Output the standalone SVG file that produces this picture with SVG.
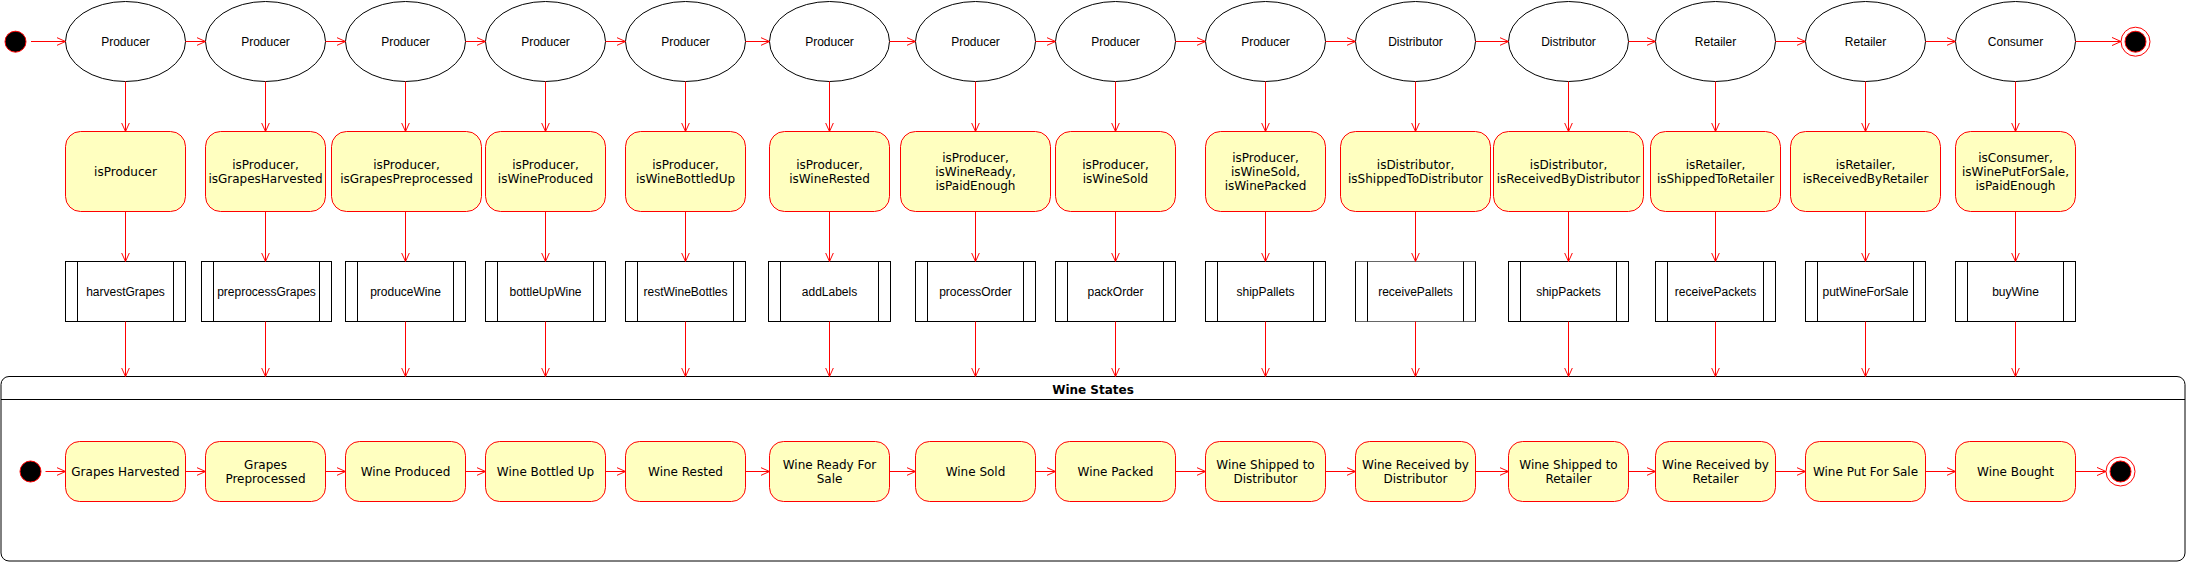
<svg xmlns="http://www.w3.org/2000/svg" width="2186" height="562" viewBox="0 0 2186 562">
<style>
.bg{fill:#ffffff}
.role{fill:#ffffff;stroke:#000000;stroke-width:1}
.cond{fill:#ffffc0;stroke:#ff0000;stroke-width:1}
.proc{fill:#ffffff;stroke:#000000;stroke-width:1}
.bar{stroke:#000000;stroke-width:1;fill:none}
.st{fill:#ffffc0;stroke:#ff0000;stroke-width:1}
.lbl{font-family:"Liberation Sans",Arial,sans-serif;font-size:12px;fill:#000000;text-anchor:middle}
.vl{font-family:"DejaVu Sans",Verdana,sans-serif;font-size:12px;fill:#000000;text-anchor:middle}
.title{font-family:"DejaVu Sans",Verdana,sans-serif;font-size:12px;font-weight:bold;fill:#000000;text-anchor:middle}
.cn line{stroke:#ff0000;stroke-width:1;fill:none;marker-end:url(#open)}
.cont{fill:#ffffff;stroke:#000000;stroke-width:1}
</style>
<defs>
<marker id="open" markerUnits="userSpaceOnUse" viewBox="0 0 10 10" refX="10" refY="5" markerWidth="9" markerHeight="10" orient="auto">
<path d="M0,0.5 L10,5 L0,9.5" fill="none" stroke="#ff0000" stroke-width="1.1"/>
</marker>
</defs>
<rect class="bg" x="0" y="0" width="2186" height="562"/>

<!-- container -->
<g id="wine-states">
<rect class="cont" x="1" y="376.5" width="2184" height="184.5" rx="8" ry="8"/>
<line x1="1" y1="399.5" x2="2185" y2="399.5" stroke="#000000" stroke-width="1"/>
<text class="title" x="1093" y="393.5">Wine States</text>
</g>

<!-- start / end -->
<g id="start-top"><circle cx="15.5" cy="41.7" r="10.5" fill="#000000" stroke="#ff0000" stroke-width="1"/></g>
<g id="end-top"><circle cx="2135.5" cy="41.7" r="14.5" fill="#ffffff" stroke="#ff0000" stroke-width="1"/><circle cx="2135.5" cy="41.7" r="10.5" fill="#000000" stroke="#ff0000" stroke-width="1"/></g>
<g id="start-states"><circle cx="30.5" cy="471.5" r="10.5" fill="#000000" stroke="#ff0000" stroke-width="1"/></g>
<g id="end-states"><circle cx="2120.5" cy="471.5" r="14.5" fill="#ffffff" stroke="#ff0000" stroke-width="1"/><circle cx="2120.5" cy="471.5" r="10.5" fill="#000000" stroke="#ff0000" stroke-width="1"/></g>

<!-- role ellipses -->
<g id="role1"><ellipse class="role" cx="125.5" cy="41.5" rx="60" ry="40"/><text class="lbl" x="125.5" y="46">Producer</text></g>
<g id="role2"><ellipse class="role" cx="265.5" cy="41.5" rx="60" ry="40"/><text class="lbl" x="265.5" y="46">Producer</text></g>
<g id="role3"><ellipse class="role" cx="405.5" cy="41.5" rx="60" ry="40"/><text class="lbl" x="405.5" y="46">Producer</text></g>
<g id="role4"><ellipse class="role" cx="545.5" cy="41.5" rx="60" ry="40"/><text class="lbl" x="545.5" y="46">Producer</text></g>
<g id="role5"><ellipse class="role" cx="685.5" cy="41.5" rx="60" ry="40"/><text class="lbl" x="685.5" y="46">Producer</text></g>
<g id="role6"><ellipse class="role" cx="829.5" cy="41.5" rx="60" ry="40"/><text class="lbl" x="829.5" y="46">Producer</text></g>
<g id="role7"><ellipse class="role" cx="975.5" cy="41.5" rx="60" ry="40"/><text class="lbl" x="975.5" y="46">Producer</text></g>
<g id="role8"><ellipse class="role" cx="1115.5" cy="41.5" rx="60" ry="40"/><text class="lbl" x="1115.5" y="46">Producer</text></g>
<g id="role9"><ellipse class="role" cx="1265.5" cy="41.5" rx="60" ry="40"/><text class="lbl" x="1265.5" y="46">Producer</text></g>
<g id="role10"><ellipse class="role" cx="1415.5" cy="41.5" rx="60" ry="40"/><text class="lbl" x="1415.5" y="46">Distributor</text></g>
<g id="role11"><ellipse class="role" cx="1568.5" cy="41.5" rx="60" ry="40"/><text class="lbl" x="1568.5" y="46">Distributor</text></g>
<g id="role12"><ellipse class="role" cx="1715.5" cy="41.5" rx="60" ry="40"/><text class="lbl" x="1715.5" y="46">Retailer</text></g>
<g id="role13"><ellipse class="role" cx="1865.5" cy="41.5" rx="60" ry="40"/><text class="lbl" x="1865.5" y="46">Retailer</text></g>
<g id="role14"><ellipse class="role" cx="2015.5" cy="41.5" rx="60" ry="40"/><text class="lbl" x="2015.5" y="46">Consumer</text></g>

<!-- condition boxes -->
<g id="cond1"><rect class="cond" x="65.5" y="131.5" width="120" height="80" rx="15" ry="15"/><text class="vl" x="125.5" y="175.5">isProducer</text></g>
<g id="cond2"><rect class="cond" x="205.5" y="131.5" width="120" height="80" rx="15" ry="15"/><text class="vl" x="265.5" y="168.5">isProducer,</text><text class="vl" x="265.5" y="182.5">isGrapesHarvested</text></g>
<g id="cond3"><rect class="cond" x="331.5" y="131.5" width="150" height="80" rx="15" ry="15"/><text class="vl" x="406.5" y="168.5">isProducer,</text><text class="vl" x="406.5" y="182.5">isGrapesPreprocessed</text></g>
<g id="cond4"><rect class="cond" x="485.5" y="131.5" width="120" height="80" rx="15" ry="15"/><text class="vl" x="545.5" y="168.5">isProducer,</text><text class="vl" x="545.5" y="182.5">isWineProduced</text></g>
<g id="cond5"><rect class="cond" x="625.5" y="131.5" width="120" height="80" rx="15" ry="15"/><text class="vl" x="685.5" y="168.5">isProducer,</text><text class="vl" x="685.5" y="182.5">isWineBottledUp</text></g>
<g id="cond6"><rect class="cond" x="769.5" y="131.5" width="120" height="80" rx="15" ry="15"/><text class="vl" x="829.5" y="168.5">isProducer,</text><text class="vl" x="829.5" y="182.5">isWineRested</text></g>
<g id="cond7"><rect class="cond" x="900.5" y="131.5" width="150" height="80" rx="15" ry="15"/><text class="vl" x="975.5" y="161.5">isProducer,</text><text class="vl" x="975.5" y="175.5">isWineReady,</text><text class="vl" x="975.5" y="189.5">isPaidEnough</text></g>
<g id="cond8"><rect class="cond" x="1055.5" y="131.5" width="120" height="80" rx="15" ry="15"/><text class="vl" x="1115.5" y="168.5">isProducer,</text><text class="vl" x="1115.5" y="182.5">isWineSold</text></g>
<g id="cond9"><rect class="cond" x="1205.5" y="131.5" width="120" height="80" rx="15" ry="15"/><text class="vl" x="1265.5" y="161.5">isProducer,</text><text class="vl" x="1265.5" y="175.5">isWineSold,</text><text class="vl" x="1265.5" y="189.5">isWinePacked</text></g>
<g id="cond10"><rect class="cond" x="1340.5" y="131.5" width="150" height="80" rx="15" ry="15"/><text class="vl" x="1415.5" y="168.5">isDistributor,</text><text class="vl" x="1415.5" y="182.5">isShippedToDistributor</text></g>
<g id="cond11"><rect class="cond" x="1493.5" y="131.5" width="150" height="80" rx="15" ry="15"/><text class="vl" x="1568.5" y="168.5">isDistributor,</text><text class="vl" x="1568.5" y="182.5">isReceivedByDistributor</text></g>
<g id="cond12"><rect class="cond" x="1650.5" y="131.5" width="130" height="80" rx="15" ry="15"/><text class="vl" x="1715.5" y="168.5">isRetailer,</text><text class="vl" x="1715.5" y="182.5">isShippedToRetailer</text></g>
<g id="cond13"><rect class="cond" x="1790.5" y="131.5" width="150" height="80" rx="15" ry="15"/><text class="vl" x="1865.5" y="168.5">isRetailer,</text><text class="vl" x="1865.5" y="182.5">isReceivedByRetailer</text></g>
<g id="cond14"><rect class="cond" x="1955.5" y="131.5" width="120" height="80" rx="15" ry="15"/><text class="vl" x="2015.5" y="161.5">isConsumer,</text><text class="vl" x="2015.5" y="175.5">isWinePutForSale,</text><text class="vl" x="2015.5" y="189.5">isPaidEnough</text></g>

<!-- process boxes -->
<g id="proc1"><rect class="proc" x="65.5" y="261.5" width="120" height="60"/><path class="bar" d="M77.5,261.5V321.5M173.5,261.5V321.5"/><text class="lbl" x="125.5" y="296">harvestGrapes</text></g>
<g id="proc2"><rect class="proc" x="201.5" y="261.5" width="130" height="60"/><path class="bar" d="M213.5,261.5V321.5M319.5,261.5V321.5"/><text class="lbl" x="266.5" y="296">preprocessGrapes</text></g>
<g id="proc3"><rect class="proc" x="345.5" y="261.5" width="120" height="60"/><path class="bar" d="M357.5,261.5V321.5M453.5,261.5V321.5"/><text class="lbl" x="405.5" y="296">produceWine</text></g>
<g id="proc4"><rect class="proc" x="485.5" y="261.5" width="120" height="60"/><path class="bar" d="M497.5,261.5V321.5M593.5,261.5V321.5"/><text class="lbl" x="545.5" y="296">bottleUpWine</text></g>
<g id="proc5"><rect class="proc" x="625.5" y="261.5" width="120" height="60"/><path class="bar" d="M637.5,261.5V321.5M733.5,261.5V321.5"/><text class="lbl" x="685.5" y="296">restWineBottles</text></g>
<g id="proc6"><rect class="proc" x="768.5" y="261.5" width="122" height="60"/><path class="bar" d="M780.5,261.5V321.5M878.5,261.5V321.5"/><text class="lbl" x="829.5" y="296">addLabels</text></g>
<g id="proc7"><rect class="proc" x="915.5" y="261.5" width="120" height="60"/><path class="bar" d="M927.5,261.5V321.5M1023.5,261.5V321.5"/><text class="lbl" x="975.5" y="296">processOrder</text></g>
<g id="proc8"><rect class="proc" x="1055.5" y="261.5" width="120" height="60"/><path class="bar" d="M1067.5,261.5V321.5M1163.5,261.5V321.5"/><text class="lbl" x="1115.5" y="296">packOrder</text></g>
<g id="proc9"><rect class="proc" x="1205.5" y="261.5" width="120" height="60"/><path class="bar" d="M1217.5,261.5V321.5M1313.5,261.5V321.5"/><text class="lbl" x="1265.5" y="296">shipPallets</text></g>
<g id="proc10"><rect class="proc" x="1355.5" y="261.5" width="120" height="60" style="stroke:#666666"/><path class="bar" d="M1355.5,261.5V321.5M1475.5,261.5V321.5M1367.5,261.5V321.5M1463.5,261.5V321.5"/><text class="lbl" x="1415.5" y="296">receivePallets</text></g>
<g id="proc11"><rect class="proc" x="1508.5" y="261.5" width="120" height="60"/><path class="bar" d="M1520.5,261.5V321.5M1616.5,261.5V321.5"/><text class="lbl" x="1568.5" y="296">shipPackets</text></g>
<g id="proc12"><rect class="proc" x="1655.5" y="261.5" width="120" height="60"/><path class="bar" d="M1667.5,261.5V321.5M1763.5,261.5V321.5"/><text class="lbl" x="1715.5" y="296">receivePackets</text></g>
<g id="proc13"><rect class="proc" x="1805.5" y="261.5" width="120" height="60"/><path class="bar" d="M1817.5,261.5V321.5M1913.5,261.5V321.5"/><text class="lbl" x="1865.5" y="296">putWineForSale</text></g>
<g id="proc14"><rect class="proc" x="1955.5" y="261.5" width="120" height="60"/><path class="bar" d="M1967.5,261.5V321.5M2063.5,261.5V321.5"/><text class="lbl" x="2015.5" y="296">buyWine</text></g>

<!-- state boxes -->
<g id="state1"><rect class="st" x="65.5" y="441.5" width="120" height="60" rx="14" ry="14"/><text class="vl" x="125.5" y="476">Grapes Harvested</text></g>
<g id="state2"><rect class="st" x="205.5" y="441.5" width="120" height="60" rx="14" ry="14"/><text class="vl" x="265.5" y="469">Grapes</text><text class="vl" x="265.5" y="483">Preprocessed</text></g>
<g id="state3"><rect class="st" x="345.5" y="441.5" width="120" height="60" rx="14" ry="14"/><text class="vl" x="405.5" y="476">Wine Produced</text></g>
<g id="state4"><rect class="st" x="485.5" y="441.5" width="120" height="60" rx="14" ry="14"/><text class="vl" x="545.5" y="476">Wine Bottled Up</text></g>
<g id="state5"><rect class="st" x="625.5" y="441.5" width="120" height="60" rx="14" ry="14"/><text class="vl" x="685.5" y="476">Wine Rested</text></g>
<g id="state6"><rect class="st" x="769.5" y="441.5" width="120" height="60" rx="14" ry="14"/><text class="vl" x="829.5" y="469">Wine Ready For</text><text class="vl" x="829.5" y="483">Sale</text></g>
<g id="state7"><rect class="st" x="915.5" y="441.5" width="120" height="60" rx="14" ry="14"/><text class="vl" x="975.5" y="476">Wine Sold</text></g>
<g id="state8"><rect class="st" x="1055.5" y="441.5" width="120" height="60" rx="14" ry="14"/><text class="vl" x="1115.5" y="476">Wine Packed</text></g>
<g id="state9"><rect class="st" x="1205.5" y="441.5" width="120" height="60" rx="14" ry="14"/><text class="vl" x="1265.5" y="469">Wine Shipped to</text><text class="vl" x="1265.5" y="483">Distributor</text></g>
<g id="state10"><rect class="st" x="1355.5" y="441.5" width="120" height="60" rx="14" ry="14"/><text class="vl" x="1415.5" y="469">Wine Received by</text><text class="vl" x="1415.5" y="483">Distributor</text></g>
<g id="state11"><rect class="st" x="1508.5" y="441.5" width="120" height="60" rx="14" ry="14"/><text class="vl" x="1568.5" y="469">Wine Shipped to</text><text class="vl" x="1568.5" y="483">Retailer</text></g>
<g id="state12"><rect class="st" x="1655.5" y="441.5" width="120" height="60" rx="14" ry="14"/><text class="vl" x="1715.5" y="469">Wine Received by</text><text class="vl" x="1715.5" y="483">Retailer</text></g>
<g id="state13"><rect class="st" x="1805.5" y="441.5" width="120" height="60" rx="14" ry="14"/><text class="vl" x="1865.5" y="476">Wine Put For Sale</text></g>
<g id="state14"><rect class="st" x="1955.5" y="441.5" width="120" height="60" rx="14" ry="14"/><text class="vl" x="2015.5" y="476">Wine Bought</text></g>

<!-- connectors -->
<g id="connectors" class="cn">
<line x1="31" y1="41.5" x2="65.5" y2="41.5"/>
<line x1="185.5" y1="41.5" x2="205.5" y2="41.5"/>
<line x1="325.5" y1="41.5" x2="345.5" y2="41.5"/>
<line x1="465.5" y1="41.5" x2="485.5" y2="41.5"/>
<line x1="605.5" y1="41.5" x2="625.5" y2="41.5"/>
<line x1="745.5" y1="41.5" x2="769.5" y2="41.5"/>
<line x1="889.5" y1="41.5" x2="915.5" y2="41.5"/>
<line x1="1035.5" y1="41.5" x2="1055.5" y2="41.5"/>
<line x1="1175.5" y1="41.5" x2="1205.5" y2="41.5"/>
<line x1="1325.5" y1="41.5" x2="1355.5" y2="41.5"/>
<line x1="1475.5" y1="41.5" x2="1508.5" y2="41.5"/>
<line x1="1628.5" y1="41.5" x2="1655.5" y2="41.5"/>
<line x1="1775.5" y1="41.5" x2="1805.5" y2="41.5"/>
<line x1="1925.5" y1="41.5" x2="1955.5" y2="41.5"/>
<line x1="2075.5" y1="41.5" x2="2121" y2="41.5"/>

<line x1="125.5" y1="81.5" x2="125.5" y2="131.5"/>
<line x1="265.5" y1="81.5" x2="265.5" y2="131.5"/>
<line x1="405.5" y1="81.5" x2="405.5" y2="131.5"/>
<line x1="545.5" y1="81.5" x2="545.5" y2="131.5"/>
<line x1="685.5" y1="81.5" x2="685.5" y2="131.5"/>
<line x1="829.5" y1="81.5" x2="829.5" y2="131.5"/>
<line x1="975.5" y1="81.5" x2="975.5" y2="131.5"/>
<line x1="1115.5" y1="81.5" x2="1115.5" y2="131.5"/>
<line x1="1265.5" y1="81.5" x2="1265.5" y2="131.5"/>
<line x1="1415.5" y1="81.5" x2="1415.5" y2="131.5"/>
<line x1="1568.5" y1="81.5" x2="1568.5" y2="131.5"/>
<line x1="1715.5" y1="81.5" x2="1715.5" y2="131.5"/>
<line x1="1865.5" y1="81.5" x2="1865.5" y2="131.5"/>
<line x1="2015.5" y1="81.5" x2="2015.5" y2="131.5"/>

<line x1="125.5" y1="211.5" x2="125.5" y2="261.5"/>
<line x1="265.5" y1="211.5" x2="265.5" y2="261.5"/>
<line x1="405.5" y1="211.5" x2="405.5" y2="261.5"/>
<line x1="545.5" y1="211.5" x2="545.5" y2="261.5"/>
<line x1="685.5" y1="211.5" x2="685.5" y2="261.5"/>
<line x1="829.5" y1="211.5" x2="829.5" y2="261.5"/>
<line x1="975.5" y1="211.5" x2="975.5" y2="261.5"/>
<line x1="1115.5" y1="211.5" x2="1115.5" y2="261.5"/>
<line x1="1265.5" y1="211.5" x2="1265.5" y2="261.5"/>
<line x1="1415.5" y1="211.5" x2="1415.5" y2="261.5"/>
<line x1="1568.5" y1="211.5" x2="1568.5" y2="261.5"/>
<line x1="1715.5" y1="211.5" x2="1715.5" y2="261.5"/>
<line x1="1865.5" y1="211.5" x2="1865.5" y2="261.5"/>
<line x1="2015.5" y1="211.5" x2="2015.5" y2="261.5"/>

<line x1="125.5" y1="321.5" x2="125.5" y2="376.5"/>
<line x1="265.5" y1="321.5" x2="265.5" y2="376.5"/>
<line x1="405.5" y1="321.5" x2="405.5" y2="376.5"/>
<line x1="545.5" y1="321.5" x2="545.5" y2="376.5"/>
<line x1="685.5" y1="321.5" x2="685.5" y2="376.5"/>
<line x1="829.5" y1="321.5" x2="829.5" y2="376.5"/>
<line x1="975.5" y1="321.5" x2="975.5" y2="376.5"/>
<line x1="1115.5" y1="321.5" x2="1115.5" y2="376.5"/>
<line x1="1265.5" y1="321.5" x2="1265.5" y2="376.5"/>
<line x1="1415.5" y1="321.5" x2="1415.5" y2="376.5"/>
<line x1="1568.5" y1="321.5" x2="1568.5" y2="376.5"/>
<line x1="1715.5" y1="321.5" x2="1715.5" y2="376.5"/>
<line x1="1865.5" y1="321.5" x2="1865.5" y2="376.5"/>
<line x1="2015.5" y1="321.5" x2="2015.5" y2="376.5"/>

<line x1="45.5" y1="471.5" x2="65.5" y2="471.5"/>
<line x1="185.5" y1="471.5" x2="205.5" y2="471.5"/>
<line x1="325.5" y1="471.5" x2="345.5" y2="471.5"/>
<line x1="465.5" y1="471.5" x2="485.5" y2="471.5"/>
<line x1="605.5" y1="471.5" x2="625.5" y2="471.5"/>
<line x1="745.5" y1="471.5" x2="769.5" y2="471.5"/>
<line x1="889.5" y1="471.5" x2="915.5" y2="471.5"/>
<line x1="1035.5" y1="471.5" x2="1055.5" y2="471.5"/>
<line x1="1175.5" y1="471.5" x2="1205.5" y2="471.5"/>
<line x1="1325.5" y1="471.5" x2="1355.5" y2="471.5"/>
<line x1="1475.5" y1="471.5" x2="1508.5" y2="471.5"/>
<line x1="1628.5" y1="471.5" x2="1655.5" y2="471.5"/>
<line x1="1775.5" y1="471.5" x2="1805.5" y2="471.5"/>
<line x1="1925.5" y1="471.5" x2="1955.5" y2="471.5"/>
<line x1="2075.5" y1="471.5" x2="2106" y2="471.5"/>
</g>
</svg>
